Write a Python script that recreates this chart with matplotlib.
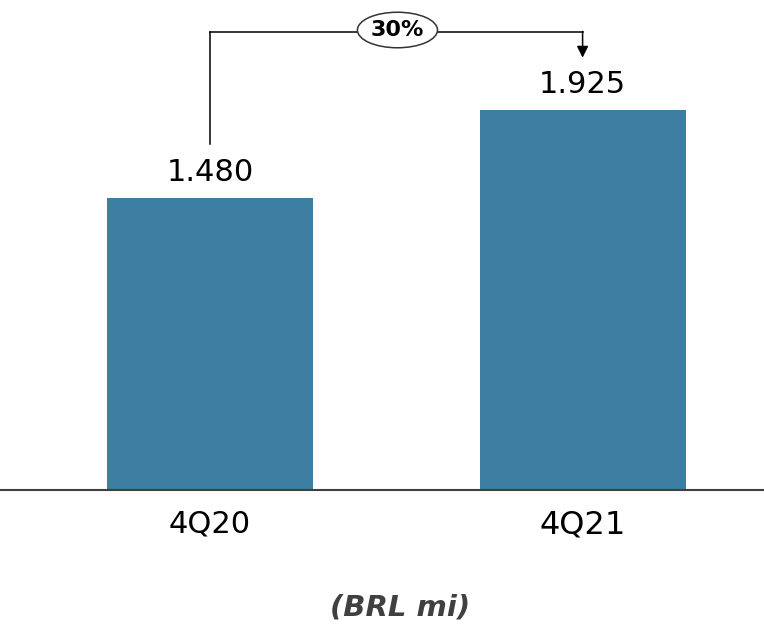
import matplotlib.pyplot as plt
from matplotlib.patches import Ellipse

quarters = ['4Q20', '4Q21']
revenue = [1480, 1925]
value_labels = ['1.480', '1.925']
growth_label = '30%'
unit_label = '(BRL mi)'

BAR_COLOR = '#3c7da1'

fig = plt.figure(figsize=(7.64, 6.26), dpi=100)
ax = fig.add_axes([0, 0.2173, 1, 0.7827])

x = list(range(len(quarters)))
ax.bar(x, revenue, width=0.553, color=BAR_COLOR)

ax.set_xlim(-0.564, 1.487)
ax.set_ylim(0, 2482)
for side in ['top', 'right', 'left']:
    ax.spines[side].set_visible(False)
ax.spines['bottom'].set_color('#404040')
ax.spines['bottom'].set_linewidth(1.5)
ax.set_yticks([])
ax.set_xticks(x)
ax.set_xticklabels(quarters, fontsize=22)
ax.tick_params(axis='x', length=0, pad=14)
ax.get_xticklabels()[1].set_fontsize(23)

# value labels above the bars
for xi, val, lab in zip(x, revenue, value_labels):
    ax.annotate(lab, (xi, val), xytext=(0, 8), textcoords='offset points',
                ha='center', va='bottom', fontsize=22)

# growth bracket from first bar to second
y_top = 2320
ax.plot([x[0], x[0]], [revenue[0] + 275, y_top], color='black', lw=1.1)
ax.plot([x[0], x[1]], [y_top, y_top], color='black', lw=1.1)
ax.annotate('', xy=(x[1], revenue[1] + 265), xytext=(x[1], y_top + 3),
            arrowprops=dict(arrowstyle='-|>', color='black', lw=1.1,
                            mutation_scale=17, shrinkA=0, shrinkB=0))
xm = 0.503
ax.add_patch(Ellipse((xm, y_top + 10), 0.215, 180, facecolor='white',
                     edgecolor='#333333', lw=1.1, zorder=3))
ax.text(xm, y_top + 10, growth_label, ha='center', va='center',
        fontsize=16, fontweight='bold', zorder=4)

fig.text(0.523, 0.029, unit_label, ha='center', va='center', fontsize=21,
         fontweight='bold', fontstyle='italic', color='#404040')

fig.savefig('out.png', dpi=100)
